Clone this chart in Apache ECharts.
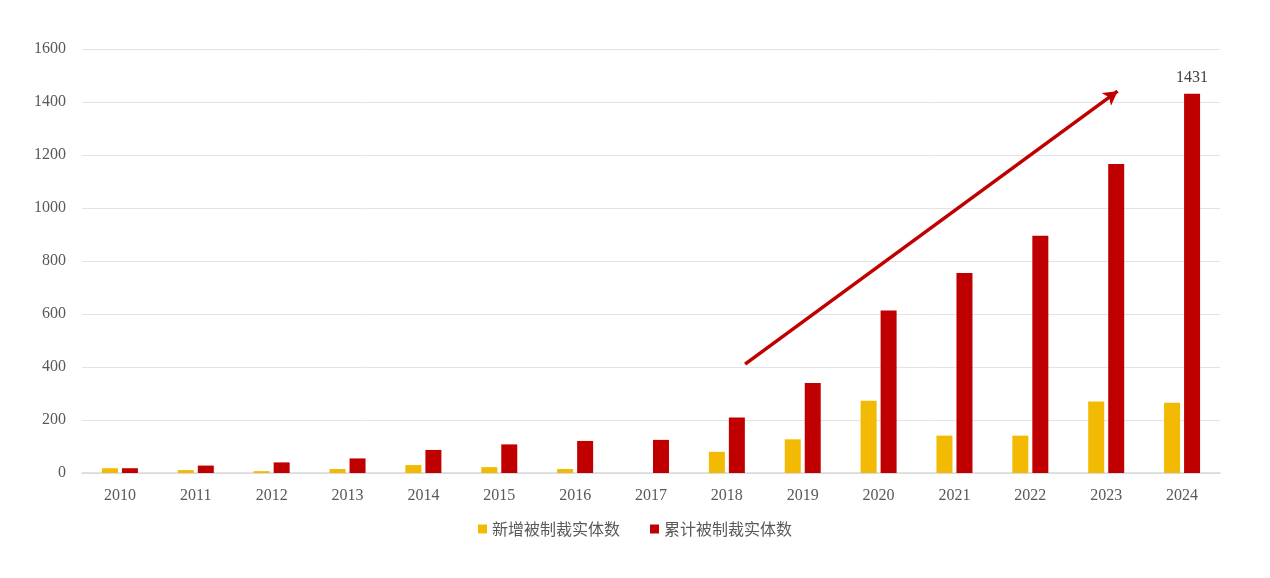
<!DOCTYPE html>
<html><head><meta charset="utf-8">
<script src="https://cdn.jsdelivr.net/npm/echarts@6/dist/echarts.min.js"></script>
<style>html,body{margin:0;padding:0;background:#fff}#c{width:1270px;height:578px}</style>
</head><body><div id="c"></div>
<script>
const years = ['2010','2011','2012','2013','2014','2015','2016','2017','2018','2019','2020','2021','2022','2023','2024'];
const newEntities = [18, 11, 7, 15, 30, 22, 15, 0, 80, 127, 273, 141, 141, 270, 265];
const totalEntities = [18, 28, 40, 55, 87, 108, 121, 125, 209, 340, 613, 755, 895, 1166, 1431];
const yTicks = [0, 200, 400, 600, 800, 1000, 1200, 1400, 1600];
const trendArrow = [[8.24, 411], [13.15, 1441]];

const chart = echarts.init(document.getElementById('c'));
const serif = '"Liberation Serif","Times New Roman",serif';
chart.setOption({
  animation: false,
  grid: { left: 82, right: 50, top: 49, bottom: 105 },
  legend: {
    bottom: 36, left: 'center', itemWidth: 9, itemHeight: 9, itemGap: 30,
    icon: 'rect',
    textStyle: { fontFamily: '"Noto Sans CJK SC"', fontSize: 16, color: '#595959' },
    data: ['新增被制裁实体数', '累计被制裁实体数']
  },
  xAxis: [{
    type: 'category', data: years,
    axisLine: { lineStyle: { color: '#d9d9d9', width: 1.5 } },
    axisTick: { show: false },
    axisLabel: { fontFamily: serif, fontSize: 16, color: '#595959', margin: 15 }
  }, {
    type: 'value', min: -0.5, max: 14.5, show: false
  }],
  yAxis: {
    type: 'value', min: yTicks[0], max: yTicks[yTicks.length - 1], interval: 200,
    axisLine: { show: false }, axisTick: { show: false },
    splitLine: { lineStyle: { color: '#e3e3e3' } },
    axisLabel: { fontFamily: serif, fontSize: 16, color: '#595959', margin: 16, formatter: v => String(v) }
  },
  series: [{
    name: '新增被制裁实体数', type: 'bar', data: newEntities,
    barWidth: 16, barGap: '25%',
    itemStyle: { color: '#F2BA02' }
  }, {
    name: '累计被制裁实体数', type: 'bar', data: totalEntities,
    barWidth: 16,
    itemStyle: { color: '#C00000' },
    label: {
      show: true, position: 'top', distance: 8,
      fontFamily: serif, fontSize: 16, color: '#404040',
      formatter: p => p.dataIndex === totalEntities.length - 1 ? p.value : ''
    }
  }, {
    type: 'line', xAxisIndex: 1, data: [], silent: true,
    markLine: {
      silent: true, symbol: ['none', 'arrow'], symbolSize: [12, 14],
      label: { show: false },
      lineStyle: { color: '#C00000', width: 3.5, type: 'solid' },
      data: [[{ coord: trendArrow[0] }, { coord: trendArrow[1] }]]
    }
  }]
});
</script></body></html>
